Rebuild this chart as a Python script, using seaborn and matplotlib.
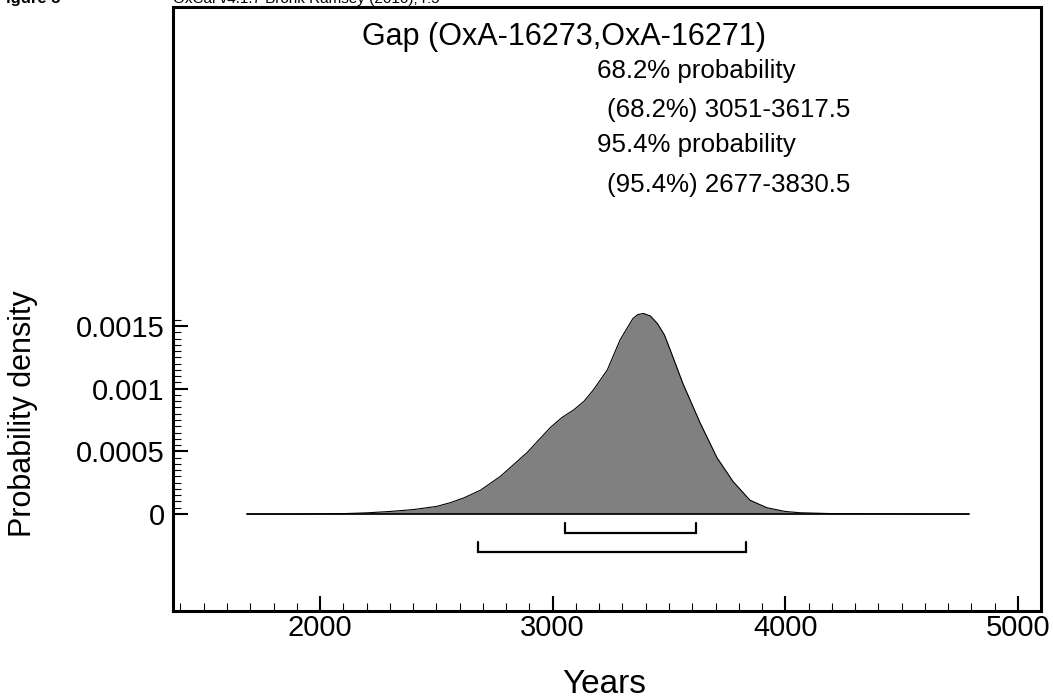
import numpy as np
import pandas as pd
import matplotlib
matplotlib.use("Agg")
import matplotlib.pyplot as plt
from matplotlib.ticker import FixedLocator, MultipleLocator
import seaborn as sns

# ---- data ----
years = [1686, 1800, 1900, 2000, 2100, 2200, 2300, 2400, 2500, 2560, 2620, 2690,
         2775, 2890, 2990, 3040, 3090, 3135, 3175, 3235, 3290, 3345, 3365, 3390, 3420,
         3450, 3480, 3505, 3560, 3633, 3706, 3775, 3848, 3921, 4000, 4063, 4200, 4400,
         4600, 4790]
density = [0.0, 0.0, 0.0, 0.000001, 0.000003, 0.000009, 0.00002, 0.000035, 0.00006,
           0.00009, 0.00013, 0.00019, 0.00030, 0.00049, 0.00069, 0.00077, 0.00083,
           0.00090, 0.00099, 0.00115, 0.00139, 0.00156, 0.00159, 0.00160, 0.00158,
           0.00152, 0.00143, 0.00131, 0.00104, 0.00073, 0.00045, 0.00026, 0.00011,
           0.00005, 0.00002, 0.00001, 0.000003, 0.000001, 0.0, 0.0]
range68 = [3051, 3617.5]
range95 = [2677, 3830.5]
title = "Gap (OxA-16273,OxA-16271)"
info_lines = ["68.2% probability", "(68.2%) 3051-3617.5",
              "95.4% probability", "(95.4%) 2677-3830.5"]
xticks = [2000, 3000, 4000, 5000]
yticks = [0, 0.0005, 0.001, 0.0015]
ytick_labels = ["0", "0.0005", "0.001", "0.0015"]

df = pd.DataFrame({"Years": years, "Density": density})

sns.set_style("ticks")
plt.rcParams["font.family"] = ["Liberation Sans", "DejaVu Sans"]
plt.rcParams["text.color"] = "black"
plt.rcParams["axes.labelcolor"] = "black"
plt.rcParams["xtick.color"] = "black"
plt.rcParams["ytick.color"] = "black"

fig = plt.figure(figsize=(10.53, 6.99), dpi=100)
ax = fig.add_axes([173 / 1053, 1 - 611 / 699, (1041 - 173) / 1053, (611 - 7) / 699])

ax.fill_between(df["Years"], 0, df["Density"], color="#808080", linewidth=0, zorder=2)
sns.lineplot(data=df, x="Years", y="Density", ax=ax, color="black", linewidth=0.8,
             estimator=None, sort=False, zorder=3)
ax.plot([years[0], years[-1]], [0, 0], color="black", linewidth=1.2, zorder=3)

# brackets
def bracket(r, yl, h=0.00008):
    ax.plot([r[0], r[0], r[1], r[1]], [yl + h, yl, yl, yl + h],
            color="black", linewidth=1.6, solid_joinstyle="miter", zorder=3)

bracket(range68, -0.00015)
bracket(range95, -0.00030)

ax.set_xlim(1368, 5099)
ax.set_ylim(-0.000774, 0.004045)
ax.set_xticks(xticks)
ax.set_xticklabels([str(t) for t in xticks])
ax.set_yticks(yticks)
ax.set_yticklabels(ytick_labels)
ax.xaxis.set_minor_locator(MultipleLocator(100))
ymin = [v for v in np.arange(0, 0.00156, 0.00005)]
ax.yaxis.set_minor_locator(FixedLocator(ymin))

for s in ax.spines.values():
    s.set_visible(True)
    s.set_linewidth(2.2)
    s.set_color("black")

ax.tick_params(axis="both", which="major", direction="in", length=10.8, width=1.5,
               labelsize=21, colors="black", labelcolor="black", top=False, right=False)
ax.tick_params(axis="both", which="minor", direction="in", length=5.5, width=0.8,
               top=False, right=False)
ax.tick_params(axis="y", which="major", pad=6)
ax.tick_params(axis="x", which="major", pad=2)
ax.set_xlabel("")
ax.set_ylabel("")
ax.grid(False)

fig.text(564 / 1053, 1 - 45 / 699, title, ha="center", va="baseline", fontsize=22)
bases = [78, 117, 152, 192]
lefts = [597, 607, 597, 607]
for txt, b, l in zip(info_lines, bases, lefts):
    fig.text(l / 1053, 1 - b / 699, txt, ha="left", va="baseline", fontsize=18.6)

fig.text(23 / 1053, 1 - 414 / 699, "Probability density", rotation=90,
         ha="center", va="center", fontsize=22)
fig.text(604 / 1053, 1 - 693 / 699, "Years", ha="center", va="baseline", fontsize=24)

fig.text(173 / 1053, 1 - 3 / 699, "OxCal v4.1.7 Bronk Ramsey (2010); r:5",
         ha="left", va="baseline", fontsize=11)
fig.text(60 / 1053, 1 - 3 / 699, "Figure 5", ha="right", va="baseline",
         fontsize=12, fontweight="bold")

fig.savefig("out.png", dpi=100)
